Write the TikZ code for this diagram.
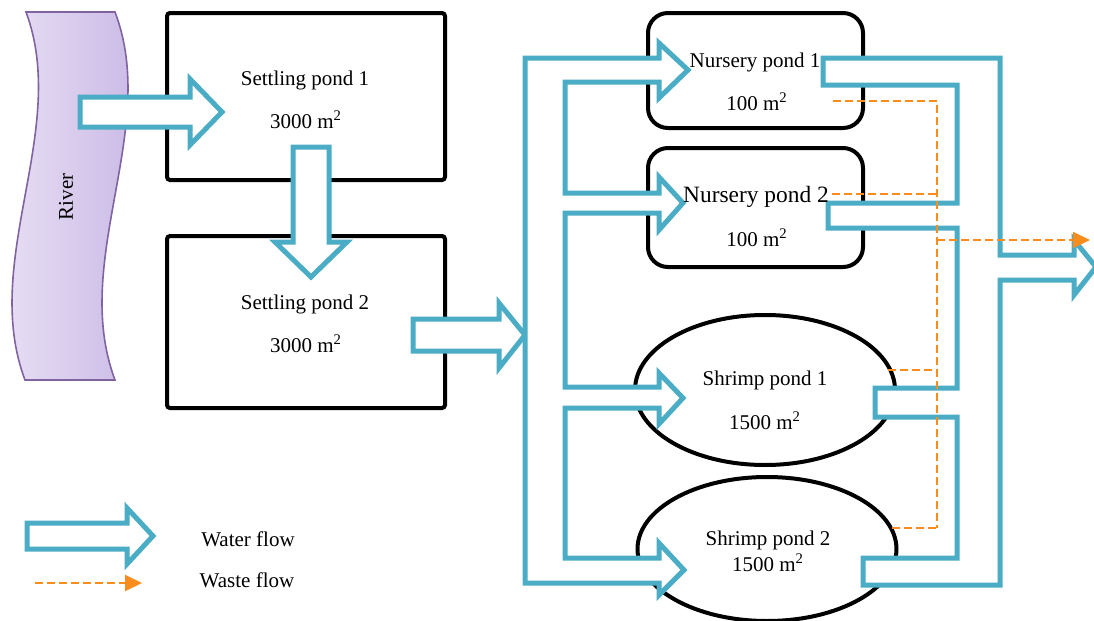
\documentclass[tikz,border=0pt]{standalone}
\usepackage{fontspec}
\setmainfont{Liberation Serif}
\usetikzlibrary{arrows.meta,shapes.geometric}

\definecolor{flowblue}{RGB}{75,172,198}
\definecolor{wasteorange}{RGB}{250,140,30}
\definecolor{riverlight}{RGB}{236,229,246}
\definecolor{riverdark}{RGB}{198,180,228}
\definecolor{riveredge}{RGB}{128,100,162}

\tikzset{
  pondbox/.style={draw, line width=2pt, inner sep=0pt},
  waterflow/.style={draw=flowblue, fill=white, line width=2.5pt},
  wasteflow/.style={draw=wasteorange, line width=1pt, dash pattern=on 4pt off 2pt},
  wastehead/.style={-{Triangle[length=8.5pt,width=8pt]}}
}

\begin{document}
\begin{tikzpicture}[x=0.5pt, y=-0.5pt, font=\fontsize{10.5}{12.6}\selectfont]
\useasboundingbox (0,0) rectangle (1094,621);

\draw[riveredge, line width=0.8pt, left color=riverlight, right color=riverdark] (26,12) -- (115,12) .. controls (160,130) and (70,260) .. (115,380) -- (25,380) .. controls (-20,260) and (70,130) .. (26,12) -- cycle;
\node[rotate=90] (river) at (66,197) {River};

\node[pondbox, rounded corners=1.5pt, minimum width=139pt, minimum height=83.5pt] (settle1) at (306,96.5) {};
\node[pondbox, rounded corners=1.5pt, minimum width=139pt, minimum height=86pt] (settle2) at (306,322) {};
\node[pondbox, rounded corners=10pt, minimum width=107.5pt, minimum height=57.5pt] (nursery1) at (755.5,70.5) {};
\node[pondbox, rounded corners=10pt, minimum width=107.5pt, minimum height=59.5pt] (nursery2) at (755.5,207.5) {};
\node[pondbox, ellipse, minimum width=130pt, minimum height=75pt] (shrimp1) at (765,390) {};
\node[pondbox, ellipse, minimum width=129.5pt, minimum height=72pt] (shrimp2) at (767,549) {};

\draw[waterflow] (80,97) -- (190,97) -- (190,79) -- (222,112) -- (190,145) -- (190,127) -- (80,127) -- cycle;
\draw[waterflow] (293,147) -- (329,147) -- (329,242) -- (347,242) -- (311,277) -- (275,242) -- (293,242) -- cycle;
\draw[waterflow] (413,319) -- (499,319) -- (499,303) -- (525,335) -- (499,368) -- (499,351) -- (413,351) -- cycle;

\draw[waterflow] (525,583) -- (525,58) -- (659,58) -- (659,43) -- (688,70) -- (659,98) -- (659,82) -- (565,82)
  -- (565,193) -- (659,193) -- (659,177) -- (683,203) -- (659,230) -- (659,213) -- (565,213)
  -- (565,387) -- (659,387) -- (659,373) -- (683,398) -- (659,424) -- (659,408) -- (565,408)
  -- (565,558) -- (659,558) -- (659,543) -- (684,570) -- (659,595) -- (659,583) -- cycle;

\draw[waterflow] (823,58) -- (1000,58) -- (1000,255) -- (1074,255) -- (1074,240) -- (1096,267) -- (1074,295) -- (1074,280) -- (1000,280)
  -- (1000,585) -- (863,585) -- (863,558) -- (957,558) -- (957,417) -- (875,417) -- (875,388) -- (957,388)
  -- (957,228) -- (828,228) -- (828,203) -- (957,203) -- (957,85) -- (823,85) -- cycle;

\draw[wasteflow] (833,101) -| (937,528);
\draw[wasteflow] (832,194) -- (937,194);
\draw[wasteflow] (888,370) -- (937,370);
\draw[wasteflow] (892,528) -- (937,528);
\coordinate (outlet) at (1090,240);
\draw[wasteflow, wastehead] (937,240) -- (outlet);

\draw[waterflow] (27,523) -- (127,523) -- (127,508) -- (153,536) -- (127,564) -- (127,549) -- (27,549) -- cycle;
\draw[wasteflow, wastehead] (35,583) -- (142,583);

\node (settle1name) at (305,80) {Settling pond 1};
\node (settle1area) at (306,120) {3000 m\textsuperscript{2}};
\node (settle2name) at (305,304) {Settling pond 2};
\node (settle2area) at (306,344) {3000 m\textsuperscript{2}};
\node (nursery1name) at (755,62) {Nursery pond 1};
\node (nursery1area) at (757,102) {100 m\textsuperscript{2}};
\node[font=\fontsize{11.7}{14}\selectfont] (nursery2name) at (756,197) {Nursery pond 2};
\node (nursery2area) at (757,238) {100 m\textsuperscript{2}};
\node (shrimp1name) at (765,380) {Shrimp pond 1};
\node (shrimp1area) at (765,421) {1500 m\textsuperscript{2}};
\node (shrimp2name) at (768,540) {Shrimp pond 2};
\node (shrimp2area) at (768,563) {1500 m\textsuperscript{2}};
\node (waterkey) at (248,539) {Water flow};
\node (wastekey) at (247,580) {Waste flow};

\end{tikzpicture}
\end{document}
